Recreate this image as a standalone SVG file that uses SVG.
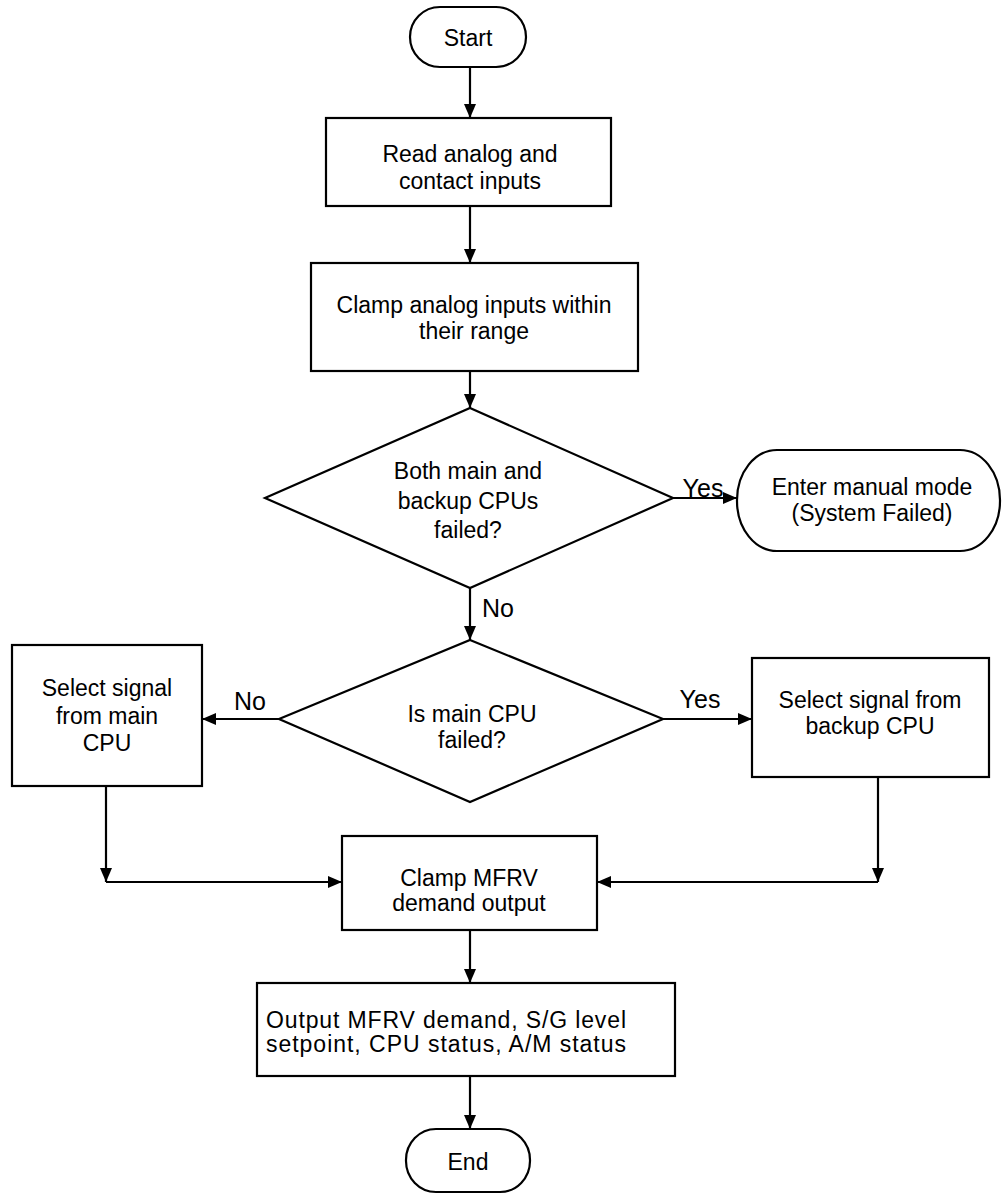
<svg xmlns="http://www.w3.org/2000/svg" width="1002" height="1194" viewBox="0 0 1002 1194">
  <style>
    .shape { fill: #ffffff; stroke: #000000; stroke-width: 2.2; }
    .line { fill: none; stroke: #000000; stroke-width: 2.2; }
    .t { font-family: "Liberation Sans", Arial, sans-serif; font-size: 23px; fill: #000000; text-anchor: middle; }
    .lbl { font-family: "Liberation Sans", Arial, sans-serif; font-size: 25px; fill: #000000; text-anchor: middle; }
  </style>
  <defs>
    <marker id="arrow" viewBox="0 0 14 12" refX="14" refY="6" markerWidth="14" markerHeight="12" markerUnits="userSpaceOnUse" orient="auto">
      <path d="M0,0 L14,6 L0,12 Z" fill="#000000"/>
    </marker>
  </defs>
  <rect width="1002" height="1194" fill="#ffffff"/>

  <!-- connectors and branch labels -->
  <g id="connectors">
    <line class="line" x1="470" y1="67" x2="470" y2="118" marker-end="url(#arrow)"/>
    <line class="line" x1="470" y1="206" x2="470" y2="263" marker-end="url(#arrow)"/>
    <line class="line" x1="470" y1="371" x2="470" y2="408" marker-end="url(#arrow)"/>
    <line class="line" x1="673" y1="498" x2="737" y2="498" marker-end="url(#arrow)"/>
    <line class="line" x1="470" y1="588" x2="470" y2="640" marker-end="url(#arrow)"/>
    <line class="line" x1="279" y1="719" x2="202" y2="719" marker-end="url(#arrow)"/>
    <line class="line" x1="663" y1="719" x2="752" y2="719" marker-end="url(#arrow)"/>
    <line class="line" x1="106" y1="786" x2="106" y2="882" marker-end="url(#arrow)"/>
    <line class="line" x1="106" y1="882" x2="342" y2="882" marker-end="url(#arrow)"/>
    <line class="line" x1="878" y1="777" x2="878" y2="882" marker-end="url(#arrow)"/>
    <line class="line" x1="878" y1="882" x2="597" y2="882" marker-end="url(#arrow)"/>
    <line class="line" x1="470" y1="930" x2="470" y2="983" marker-end="url(#arrow)"/>
    <line class="line" x1="470" y1="1076" x2="470" y2="1129" marker-end="url(#arrow)"/>
    <text class="lbl" x="703" y="497">Yes</text>
    <text class="lbl" x="498" y="617">No</text>
    <text class="lbl" x="250" y="710">No</text>
    <text class="lbl" x="700" y="708">Yes</text>
  </g>

  <g id="start">
    <rect class="shape" x="410" y="7" width="116" height="60" rx="30" ry="30"/>
    <text class="t" x="468" y="46">Start</text>
  </g>

  <g id="read-inputs">
    <rect class="shape" x="326" y="118" width="285" height="88"/>
    <text class="t" x="470" y="162">Read analog and</text>
    <text class="t" x="470" y="189">contact inputs</text>
  </g>

  <g id="clamp-inputs">
    <rect class="shape" x="311" y="263" width="327" height="108"/>
    <text class="t" x="474" y="313">Clamp analog inputs within</text>
    <text class="t" x="474" y="339">their range</text>
  </g>

  <g id="both-failed">
    <polygon class="shape" points="470,408 673,498 470,588 265,498"/>
    <text class="t" x="468" y="479">Both main and</text>
    <text class="t" x="468" y="509">backup CPUs</text>
    <text class="t" x="468" y="538">failed?</text>
  </g>

  <g id="manual-mode">
    <rect class="shape" x="737" y="450" width="263" height="101" rx="40" ry="50"/>
    <text class="t" x="872" y="495">Enter manual mode</text>
    <text class="t" x="872" y="521">(System Failed)</text>
  </g>

  <g id="main-failed">
    <polygon class="shape" points="470,640 663,719 470,802 279,719"/>
    <text class="t" x="472" y="722">Is main CPU</text>
    <text class="t" x="472" y="748">failed?</text>
  </g>

  <g id="select-main">
    <rect class="shape" x="12" y="645" width="190" height="141"/>
    <text class="t" x="107" y="696">Select signal</text>
    <text class="t" x="107" y="724">from main</text>
    <text class="t" x="107" y="751">CPU</text>
  </g>

  <g id="select-backup">
    <rect class="shape" x="752" y="658" width="237" height="119"/>
    <text class="t" x="870" y="708">Select signal from</text>
    <text class="t" x="870" y="734">backup CPU</text>
  </g>

  <g id="clamp-demand">
    <rect class="shape" x="342" y="836" width="255" height="94"/>
    <text class="t" x="469" y="886">Clamp MFRV</text>
    <text class="t" x="469" y="911">demand output</text>
  </g>

  <g id="output">
    <rect class="shape" x="257" y="983" width="418" height="93"/>
    <text class="t" x="446" y="1028" textLength="360" lengthAdjust="spacing">Output MFRV demand, S/G level</text>
    <text class="t" x="446" y="1052" textLength="360" lengthAdjust="spacing">setpoint, CPU status, A/M status</text>
  </g>

  <g id="end">
    <rect class="shape" x="406" y="1129" width="124" height="63" rx="30" ry="31"/>
    <text class="t" x="468" y="1170">End</text>
  </g>
</svg>
